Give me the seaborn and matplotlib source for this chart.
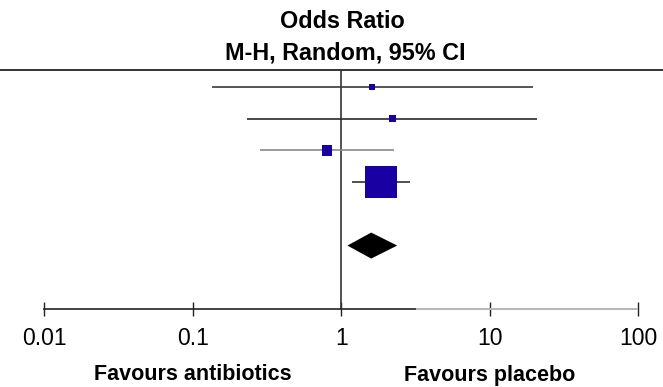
import matplotlib
matplotlib.use("Agg")
import matplotlib.pyplot as plt
from matplotlib.ticker import FixedLocator, FixedFormatter, NullLocator
import matplotlib.transforms as mtransforms
import numpy as np
import pandas as pd
import seaborn as sns

# ---- data ----
studies = ["Study 1", "Study 2", "Study 3", "Study 4"]
odds_ratio = [1.62, 2.20, 0.80, 1.84]
ci_lower = [0.135, 0.233, 0.285, 1.19]
ci_upper = [19.6, 20.9, 2.27, 2.91]
weight = [3.0, 4.2, 8.5, 84.3]
ci_colors = ["#3a3a3a", "#2a2a2a", "#8a8a8a", "#333333"]

pooled_or = 1.59
pooled_lower = 1.10
pooled_upper = 2.38

tick_values = [0.01, 0.1, 1, 10, 100]
tick_labels = ["0.01", "0.1", "1", "10", "100"]
title_lines = ["Odds Ratio", "M-H, Random, 95% CI"]
favours_left = "Favours antibiotics"
favours_right = "Favours placebo"

# ---- layout ----
sns.set_theme(style="white")
plt.rcParams["font.family"] = ["Liberation Sans", "DejaVu Sans"]
plt.rcParams["text.color"] = "black"

W, H = 663, 387
fig = plt.figure(figsize=(W / 100, H / 100), dpi=100)
ax_bottom_px, ax_top_px = 309, 70
ax = fig.add_axes([0, (H - ax_bottom_px) / H, 1, (ax_bottom_px - ax_top_px) / H])

ax.set_xscale("log")
px_per_dec = 148.6
x_left = 10 ** (-2 - 44 / px_per_dec)
x_right = 10 ** (2 + (W - 638.5) / px_per_dec)
ax.set_xlim(x_left, x_right)

n = len(studies)
rows = np.arange(n)
pooled_row = n + 1
ax.set_ylim(7.0, -0.536)

df = pd.DataFrame({"study": studies, "or": odds_ratio, "lo": ci_lower,
                   "hi": ci_upper, "w": weight, "row": rows})

# confidence intervals
for r, lo, hi, c in zip(rows, ci_lower, ci_upper, ci_colors):
    ax.hlines(r, lo, hi, color=c, lw=1.2, zorder=2)

# line of no effect
ax.axvline(1, color="#333333", lw=1.2, zorder=1)

# study squares
sns.scatterplot(data=df, x="or", y="row", size="w", sizes=(0, 531),
                size_norm=(0, max(weight)), marker="s", color="#1800a3",
                linewidth=0, legend=False, ax=ax, zorder=3)

# pooled diamond
dh = 0.41
ax.fill([pooled_lower, pooled_or, pooled_upper, pooled_or],
        [pooled_row, pooled_row - dh, pooled_row, pooled_row + dh],
        color="black", lw=0, zorder=3)

# axes styling
for s in ["left", "right"]:
    ax.spines[s].set_visible(False)
ax.spines["top"].set_color("#333333")
ax.spines["top"].set_linewidth(1.4)
ax.spines["bottom"].set_color("#222222")
ax.spines["bottom"].set_linewidth(1.2)
ax.spines["bottom"].set_bounds(tick_values[0], tick_values[-1])
ax.xaxis.set_major_locator(FixedLocator(tick_values))
ax.xaxis.set_major_formatter(FixedFormatter(tick_labels))
ax.xaxis.set_minor_locator(NullLocator())
ax.yaxis.set_major_locator(NullLocator())
ax.set_xlabel("")
ax.set_ylabel("")
ax.tick_params(axis="x", bottom=True, direction="inout", length=9.5, width=1.0,
               color="#222222", labelsize=16.5, pad=8, labelcolor="black")

# light-grey segment of the scale line (as in the reference)
btrans = mtransforms.blended_transform_factory(ax.transData, ax.transAxes)
ax.plot([10 ** ((417 - 342) / px_per_dec), tick_values[-1]], [0, 0],
        transform=btrans, color="#c4c4c4", lw=1.3, clip_on=False, zorder=4,
        solid_capstyle="butt")

# header
fig.text(342 / W, 1 - 22 / H, title_lines[0], ha="center", va="center",
         fontsize=16.8, fontweight="bold", color="black")
fig.text(345 / W, 1 - 53 / H, title_lines[1], ha="center", va="center",
         fontsize=16.8, fontweight="bold", color="black")

# favours labels
ftrans = mtransforms.blended_transform_factory(ax.transData, fig.transFigure)
ax.text(0.1, 1 - 375 / H, favours_left, transform=ftrans, ha="center",
        va="center", fontsize=15.5, fontweight="bold", color="black")
ax.text(10, 1 - 375 / H, favours_right, transform=ftrans, ha="center",
        va="center", fontsize=15.5, fontweight="bold", color="black")

fig.savefig("out.png", dpi=100)
